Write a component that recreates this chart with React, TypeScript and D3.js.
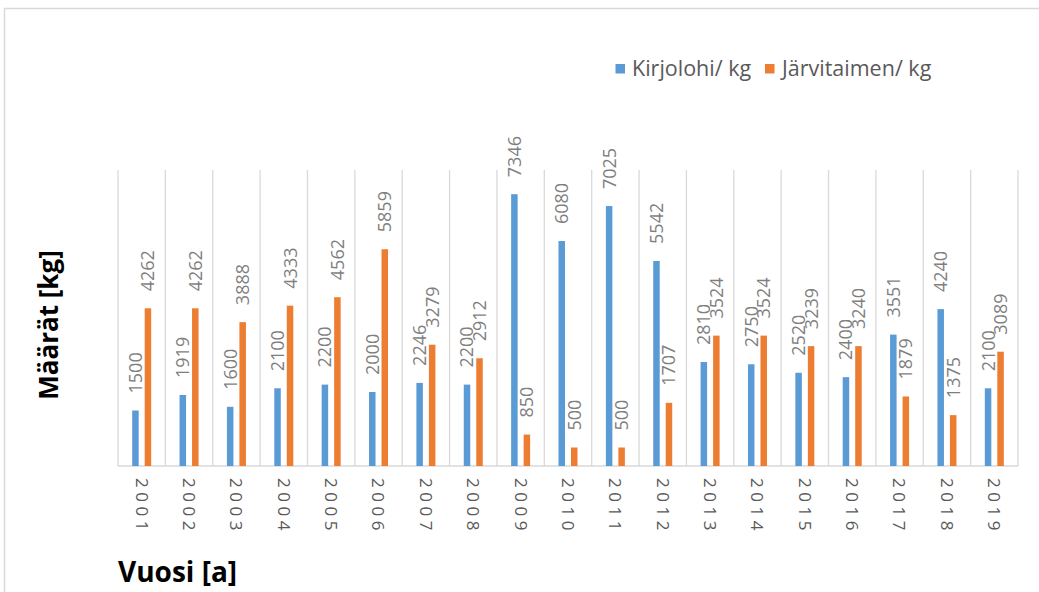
import React from "react";
import * as d3 from "d3";

const years = ["2001","2002","2003","2004","2005","2006","2007","2008","2009","2010","2011","2012","2013","2014","2015","2016","2017","2018","2019"];
const kirjolohi = [1500,1919,1600,2100,2200,2000,2246,2200,7346,6080,7025,5542,2810,2750,2520,2400,3551,4240,2100];
const jarvitaimen = [4262,4262,3888,4333,4562,5859,3279,2912,850,500,500,1707,3524,3524,3239,3240,1879,1375,3089];
const seriesNames = ["Kirjolohi/ kg", "Järvitaimen/ kg"];
const seriesColors = ["#5B9BD5", "#ED7D31"];
const yMax = 8000;

const W = 1039, H = 592;
const FONT = "'Open Sans', 'Liberation Sans', sans-serif";

export default function App() {
  const x = d3.scaleBand<string>().domain(years).range([118, 1018]).padding(0);
  const y = d3.scaleLinear().domain([0, yMax]).range([466, 170]);
  const bw = 6.5, gap = 3;
  const series = [kirjolohi, jarvitaimen];
  const bounds = [...years.map(yr => x(yr) as number), 1018];
  return (
    <svg width={W} height={H} style={{ position: "absolute", left: 0, top: 0, background: "#fff" }}>
      <rect x={0} y={0} width={W} height={H} fill="#fff" />
      {/* chart border */}
      <line x1={4} y1={8.5} x2={W} y2={8.5} stroke="#d9d9d9" strokeWidth={1.5} />
      <line x1={4.5} y1={8} x2={4.5} y2={H} stroke="#d9d9d9" strokeWidth={1.5} />
      {/* vertical gridlines */}
      {bounds.map((b, i) => (
        <line key={"g" + i} x1={b} x2={b} y1={y(yMax)} y2={y(0)} stroke="#d9d9d9" strokeWidth={1.3} />
      ))}
      <line x1={118} x2={1018} y1={y(0)} y2={y(0)} stroke="#d9d9d9" strokeWidth={1.5} />
      {/* bars */}
      {series.map((vals, si) =>
        vals.map((v, i) => {
          const c = (x(years[i]) as number) + x.bandwidth() / 2;
          const bx = si === 0 ? c - gap - bw : c + gap;
          return (
            <rect key={`b${si}-${i}`} x={bx} y={y(v)} width={bw} height={y(0) - y(v)} fill={seriesColors[si]} />
          );
        })
      )}
      {/* data labels */}
      {series.map((vals, si) =>
        vals.map((v, i) => {
          const c = (x(years[i]) as number) + x.bandwidth() / 2;
          const lx = si === 0 ? c - gap - bw / 2 : c + gap + bw / 2;
          const ly = y(v) - 17;
          return (
            <text key={`l${si}-${i}`} transform={`translate(${lx},${ly}) rotate(-90)`} dy="0.36em"
              fontFamily={FONT} fontSize={18} fill="#7f7f7f" textAnchor="start">{v}</text>
          );
        })
      )}
      {/* x tick labels */}
      {years.map((yr) => {
        const c = (x(yr) as number) + x.bandwidth() / 2;
        return (
          <text key={"t" + yr} transform={`translate(${c},${478}) rotate(90)`} dy="0.36em"
            fontFamily={FONT} fontSize={17} letterSpacing={4.5} fill="#595959" textAnchor="start">{yr}</text>
        );
      })}
      {/* axis titles */}
      <text transform={`translate(${58},${325}) rotate(-90)`} fontFamily={FONT} fontWeight="bold" fontSize={26}
        fill="#000" textAnchor="middle">Määrät [kg]</text>
      <text x={118} y={582} fontFamily={FONT} fontWeight="bold" fontSize={28} fill="#000">Vuosi [a]</text>
      {/* legend */}
      <rect x={615.5} y={64} width={9.5} height={9.5} fill={seriesColors[0]} />
      <text x={632} y={76} fontFamily={FONT} fontSize={21.5} fill="#595959">{seriesNames[0]}</text>
      <rect x={765} y={64} width={9.5} height={9.5} fill={seriesColors[1]} />
      <text x={782} y={76} fontFamily={FONT} fontSize={21.5} fill="#595959">{seriesNames[1]}</text>
    </svg>
  );
}
